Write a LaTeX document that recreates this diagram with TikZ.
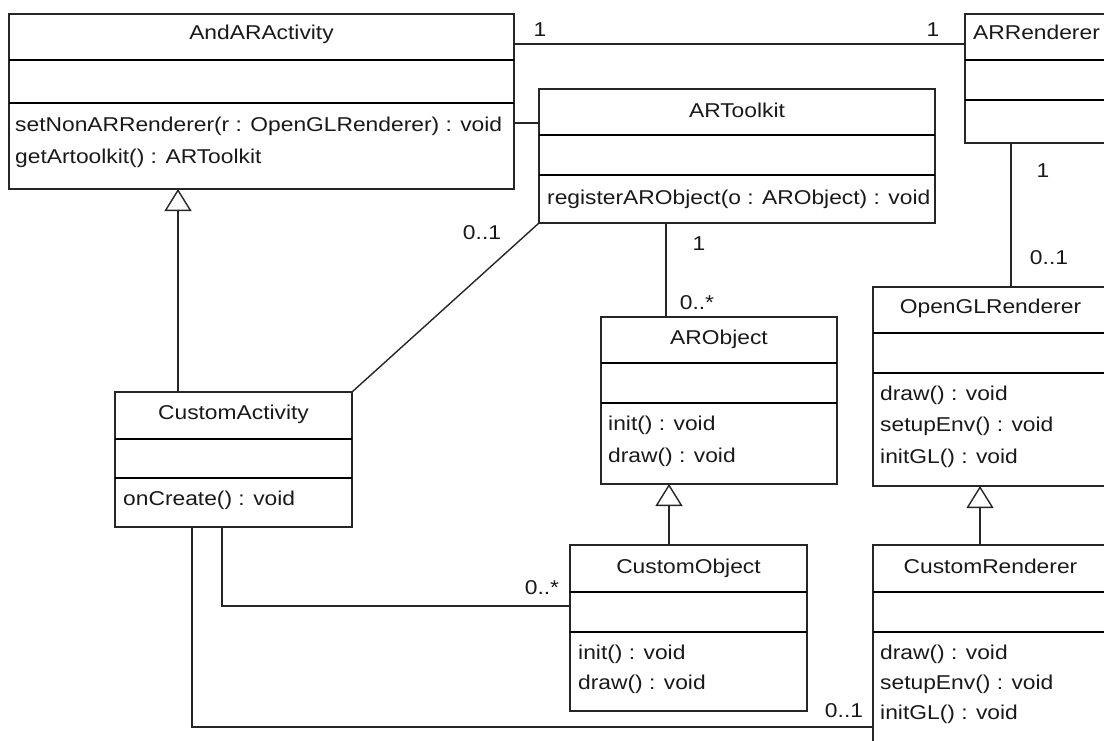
\documentclass[tikz,border=0pt]{standalone}
\usepackage{fontspec}
\setmainfont[FakeStretch=1.14]{Liberation Sans}
\usetikzlibrary{arrows.meta}
\begin{document}
\begin{tikzpicture}[x=1pt,y=-1pt,
  box/.style={draw=black!85, line width=1.5pt, anchor=north west, inner sep=0pt, outer sep=0pt},
  sepline/.style={line width=2.6pt, black},
  conn/.style={line width=1.4pt, black!85},
  txt/.style={inner sep=0pt, font=\fontsize{20}{24}\selectfont, text=black!90},
  ttl/.style={txt, anchor=base},
  mth/.style={txt, anchor=base west},
  mult/.style={txt, anchor=base},
  gen/.style={conn, -{Triangle[open, width=27pt, length=22pt, line width=1.4pt]}}
]
\useasboundingbox (0,0) rectangle (1104,740);
\clip (0,0) rectangle (1104,740);

% ---------- class boxes ----------
\node[box, minimum width=505pt, minimum height=175pt] (andar) at (9,14) {};
\node[box, minimum width=143pt, minimum height=129pt] (arr) at (965,14) {};
\node[box, minimum width=396pt, minimum height=134pt] (artk) at (539,89) {};
\node[box, minimum width=236pt, minimum height=167pt] (arobj) at (601,317) {};
\node[box, minimum width=235pt, minimum height=199pt] (ogl) at (873,287) {};
\node[box, minimum width=237pt, minimum height=135pt] (custact) at (115,392) {};
\node[box, minimum width=237pt, minimum height=166pt] (custobj) at (570,545) {};
\node[box, minimum width=235pt, minimum height=255pt] (custren) at (873,545) {};

% ---------- compartment separators ----------
\draw[sepline] (andar.west |- 0,60) -- (andar.east |- 0,60);
\draw[sepline] (andar.west |- 0,103) -- (andar.east |- 0,103);
\draw[sepline] (arr.west |- 0,60) -- (arr.east |- 0,60);
\draw[sepline] (arr.west |- 0,100) -- (arr.east |- 0,100);
\draw[sepline] (artk.west |- 0,135) -- (artk.east |- 0,135);
\draw[sepline] (artk.west |- 0,175) -- (artk.east |- 0,175);
\draw[sepline] (arobj.west |- 0,363) -- (arobj.east |- 0,363);
\draw[sepline] (arobj.west |- 0,403) -- (arobj.east |- 0,403);
\draw[sepline] (ogl.west |- 0,333) -- (ogl.east |- 0,333);
\draw[sepline] (ogl.west |- 0,373) -- (ogl.east |- 0,373);
\draw[sepline] (custact.west |- 0,439) -- (custact.east |- 0,439);
\draw[sepline] (custact.west |- 0,478) -- (custact.east |- 0,478);
\draw[sepline] (custobj.west |- 0,592) -- (custobj.east |- 0,592);
\draw[sepline] (custobj.west |- 0,632) -- (custobj.east |- 0,632);
\draw[sepline] (custren.west |- 0,592) -- (custren.east |- 0,592);
\draw[sepline] (custren.west |- 0,632) -- (custren.east |- 0,632);

% ---------- titles ----------
\node[ttl] (andarT) at (andar.north |- 0,39) {AndARActivity};
\node[ttl] (arrT) at (arr.north |- 0,39) {ARRenderer};
\node[ttl] (artkT) at (artk.north |- 0,117) {ARToolkit};
\node[ttl] (arobjT) at (arobj.north |- 0,344) {ARObject};
\node[ttl] (oglT) at (ogl.north |- 0,313) {OpenGLRenderer};
\node[ttl] (custactT) at (custact.north |- 0,419) {CustomActivity};
\node[ttl] (custobjT) at (custobj.north |- 0,573) {CustomObject};
\node[ttl] (custrenT) at (custren.north |- 0,573) {CustomRenderer};

% ---------- operations ----------
\node[mth] (andarM1) at (15,131) {setNonARRenderer(r : OpenGLRenderer) : void};
\node[mth] (andarM2) at (15,163) {getArtoolkit() : ARToolkit};
\node[mth] (artkM1) at (547,204) {registerARObject(o : ARObject) : void};
\node[mth] (arobjM1) at (608,430) {init() : void};
\node[mth] (arobjM2) at (608,462) {draw() : void};
\node[mth] (oglM1) at (880,400) {draw() : void};
\node[mth] (oglM2) at (880,431) {setupEnv() : void};
\node[mth] (oglM3) at (880,463) {initGL() : void};
\node[mth] (custactM1) at (123,505) {onCreate() : void};
\node[mth] (custobjM1) at (578,659) {init() : void};
\node[mth] (custobjM2) at (578,689) {draw() : void};
\node[mth] (custrenM1) at (880,659) {draw() : void};
\node[mth] (custrenM2) at (880,689) {setupEnv() : void};
\node[mth] (custrenM3) at (880,719) {initGL() : void};

% ---------- associations ----------
\draw[conn] (andar.east |- 0,44) -- (arr.west |- 0,44);
\draw[conn] (andar.east |- 0,123) -- (artk.west |- 0,123);
\draw[conn] (artk.south west) -- (custact.north east);
\draw[conn] (666,0 |- artk.south) -- (666,0 |- arobj.north);
\draw[conn] (1011,0 |- arr.south) -- (1011,0 |- ogl.north);
\coordinate (c1) at (222,606);
\coordinate (c2) at (192,727);
\draw[conn] (222,0 |- custact.south) -- (c1) -- (custobj.west |- c1);
\draw[conn] (192,0 |- custact.south) -- (c2) -- (custren.west |- c2);

% ---------- generalizations ----------
\draw[gen] (178,0 |- custact.north) -- (178,0 |- andar.south);
\draw[gen] (669,0 |- custobj.north) -- (669,0 |- arobj.south);
\draw[gen] (980,0 |- custren.north) -- (980,0 |- ogl.south);

% ---------- multiplicities ----------
\node[mult] (m1) at (540,36) {1};
\node[mult] (m2) at (933,36) {1};
\node[mult] (m3) at (482,239) {0..1};
\node[mult] (m4) at (699,250) {1};
\node[mult] (m5) at (697,309) {0..*};
\node[mult] (m6) at (1043,177) {1};
\node[mult] (m7) at (1049,264) {0..1};
\node[mult] (m8) at (542,594) {0..*};
\node[mult] (m9) at (844,717) {0..1};
\end{tikzpicture}
\end{document}
